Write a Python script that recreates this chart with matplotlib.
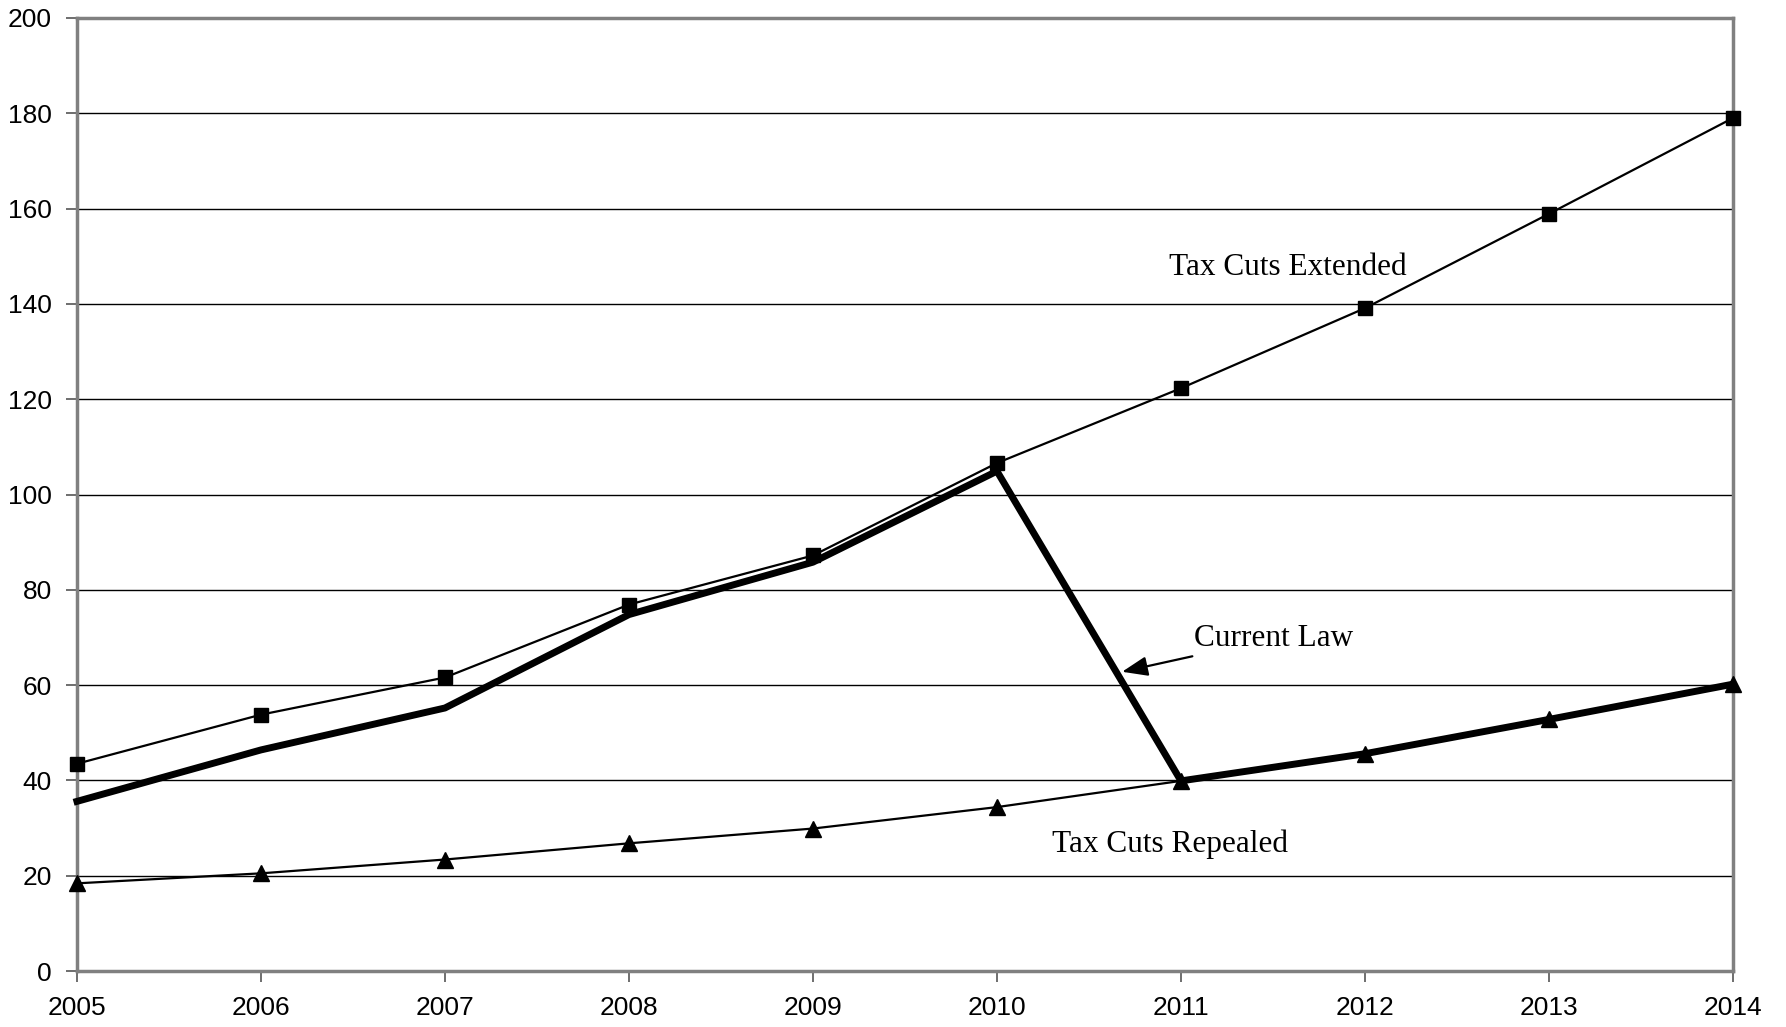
import matplotlib
matplotlib.use('Agg')
import matplotlib.pyplot as plt

years = list(range(2005, 2015))
extended = [43.5, 53.8, 61.6, 76.9, 87.2, 106.6, 122.3, 139.1, 158.9, 179.0]
current_law = [35.6, 46.4, 55.2, 74.8, 85.8, 104.9, 39.9, 45.6, 52.8, 60.2]
repealed = [18.4, 20.5, 23.4, 26.8, 29.9, 34.4, 39.9, 45.6, 52.8, 60.2]
yticks = list(range(0, 201, 20))

fig = plt.figure(figsize=(17.86, 10.27), dpi=100)
ax = fig.add_axes([0.0431, 0.0545, 0.9272, 0.928])

for y in yticks[1:-1]:
    ax.axhline(y, color='black', lw=1.0, zorder=1)

ax.plot(years, repealed, '-', color='black', lw=1.6, marker='^', ms=11, zorder=3, clip_on=False)
ax.plot(years, current_law, '-', color='black', lw=5, solid_joinstyle='round', zorder=4, clip_on=False)
ax.plot(years, extended, '-', color='black', lw=1.6, marker='s', ms=10.5, zorder=5, clip_on=False)

serif = ['Liberation Serif', 'DejaVu Serif']
ax.text(2011.58, 147.7, 'Tax Cuts Extended', fontsize=22.5, family=serif, ha='center', va='center')
ax.text(2010.94, 26.5, 'Tax Cuts Repealed', fontsize=22.5, family=serif, ha='center', va='center')
ax.annotate('Current Law', xy=(2010.68, 62.8), xytext=(2011.07, 69.8),
            fontsize=22.5, family=serif, ha='left', va='center',
            arrowprops=dict(arrowstyle='-|>,head_length=0.65,head_width=0.25', color='black', lw=1.6,
                            mutation_scale=24, shrinkA=2, shrinkB=0))

ax.set_xlim(2005, 2014)
ax.set_ylim(0, 200)
ax.set_xticks(years)
ax.set_yticks(yticks)
ax.tick_params(axis='both', direction='out', length=8, width=1.2, color='#555555',
               labelsize=19, pad=10)
for lab in ax.get_xticklabels() + ax.get_yticklabels():
    lab.set_family(['Liberation Sans', 'DejaVu Sans'])
for s in ax.spines.values():
    s.set_color('#808080')
    s.set_linewidth(2.5)

fig.savefig('out.png', dpi=100)
